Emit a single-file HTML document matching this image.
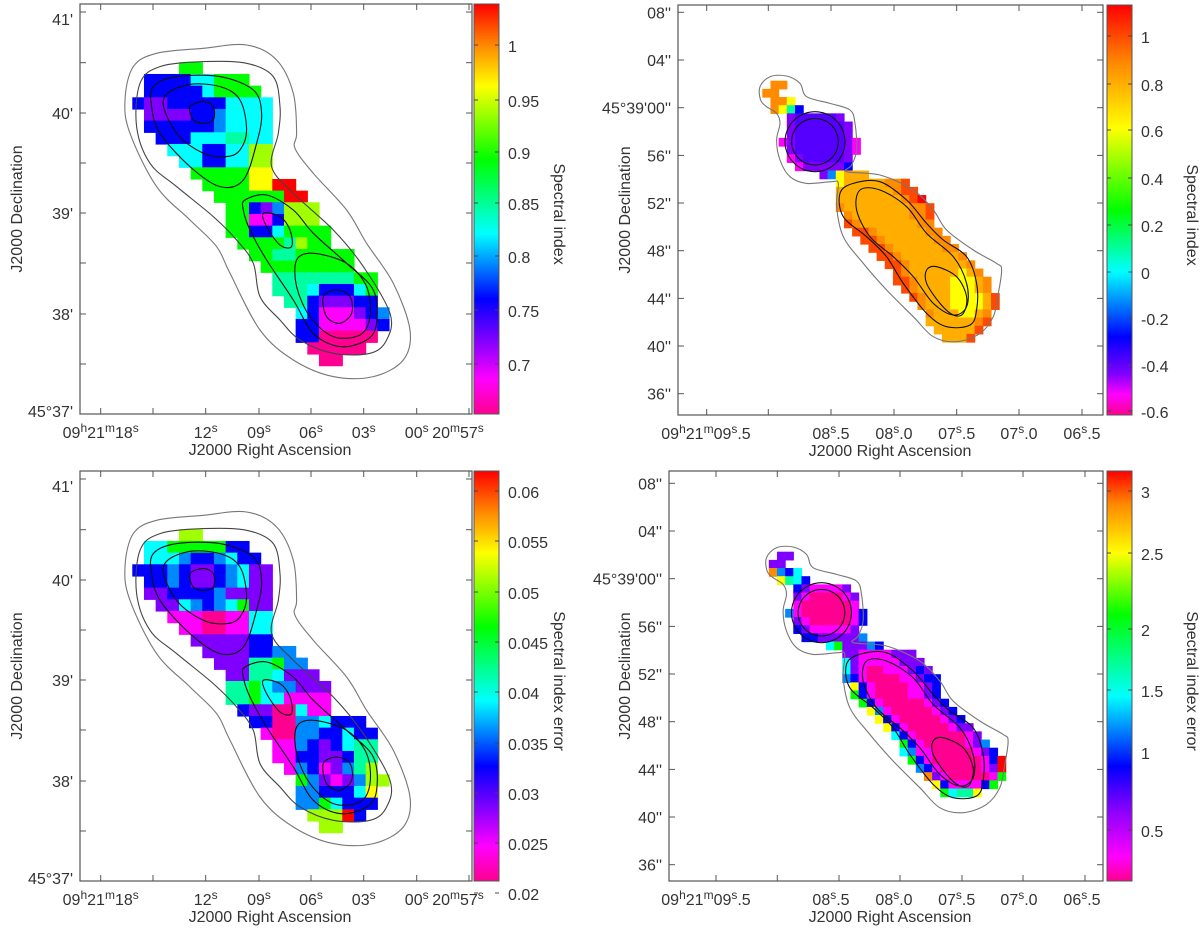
<!DOCTYPE html>
<html><head><meta charset="utf-8"><style>
html,body{margin:0;padding:0;background:#fff;}
svg{display:block;}
text{font-family:"Liberation Sans",sans-serif;fill:#333;font-size:16px;}
</style></head><body>
<svg id="fig" width="1200" height="934" viewBox="0 0 1200 934" xmlns="http://www.w3.org/2000/svg">
<defs>
<linearGradient id="gradL" x1="0" y1="1" x2="0" y2="0">
<stop offset="0" stop-color="#ff0090"/><stop offset="0.085" stop-color="#ff00ff"/>
<stop offset="0.18" stop-color="#8000ff"/><stop offset="0.28" stop-color="#0000ff"/>
<stop offset="0.44" stop-color="#00ffff"/><stop offset="0.62" stop-color="#00ff00"/>
<stop offset="0.8" stop-color="#ffff00"/><stop offset="0.9" stop-color="#ff8800"/>
<stop offset="1" stop-color="#ff0000"/>
</linearGradient>
<linearGradient id="gradTR" x1="0" y1="1" x2="0" y2="0">
<stop offset="0" stop-color="#ff0090"/><stop offset="0.05" stop-color="#ff00ff"/>
<stop offset="0.1" stop-color="#8000ff"/><stop offset="0.19" stop-color="#0000ff"/>
<stop offset="0.35" stop-color="#00ffff"/><stop offset="0.5" stop-color="#00ff00"/>
<stop offset="0.7" stop-color="#ffff00"/><stop offset="0.86" stop-color="#ff8800"/>
<stop offset="1" stop-color="#ff0000"/>
</linearGradient>
<linearGradient id="gradBR" x1="0" y1="1" x2="0" y2="0">
<stop offset="0" stop-color="#ff0090"/><stop offset="0.06" stop-color="#ff00ff"/>
<stop offset="0.18" stop-color="#8000ff"/><stop offset="0.28" stop-color="#0000ff"/>
<stop offset="0.45" stop-color="#00ffff"/><stop offset="0.65" stop-color="#00ff00"/>
<stop offset="0.8" stop-color="#ffff00"/><stop offset="0.92" stop-color="#ff8800"/>
<stop offset="1" stop-color="#ff0000"/>
</linearGradient>
</defs>
</svg>
<script>
// ---------- data ----------
const palette = {p:'#ff0090',m:'#ff00ff',v:'#8000ff',u:'#5500ff',b:'#0000ff',l:'#0088ff',c:'#00ffff',t:'#00ffa0',g:'#00ff00',y:'#a0ff00',Y:'#ffff00',a:'#ffae00',o:'#ff8c00',R:'#ff4800',r:'#ff0000'};
const rowsTL = [[4,"gg"],[1,"bbbbccggg"],[1,"bbbbbcgggg"],[0,"bvvbbbbbcccc"],[1,"vvvvbblcccc"],[1,"bbbbbblcccc"],[2,"bbbcccttcc"],[3,"cccbbccyy"],[4,"ccbbccyy"],[5,"gggggYY"],[6,"ggggYYrr"],[7,"ggggggrr"],[8,"ggbvlyyy"],[8,"ggmmbyyy"],[8,"ggbbcgggg"],[9,"ggggtygg"],[10,"ggttggggg"],[11,"gggggggg"],[12,"tttttttgg"],[12,"tttcbbbcg"],[13,"ttbvvvbb"],[14,"cbmmmvbl"],[14,"bbmmmmvb"],[14,"bbppppp"],[15,"ppppp"],[16,"pp"]];
const rowsBL = [[4,"yy"],[1,"ccgggggbb"],[1,"ccclbblcbb"],[0,"bbblbvvblcvv"],[1,"bblbvvblcvv"],[1,"vvbbbblvvvv"],[2,"vvclblcgvv"],[3,"mmmppmmcc"],[4,"mmppmmcc"],[5,"vvvvvbb"],[6,"vvvvbbll"],[7,"vvvttgll"],[8,"vvttcvvv"],[8,"ttgcllvvv"],[8,"ttgccmmmm"],[9,"bvvppcmm"],[10,"bbppllcbbb"],[11,"mppllbbcbb"],[12,"mmlbvbctt"],[12,"mmbbvvbtt"],[13,"mlbmvlty"],[14,"glvmvlyy"],[14,"llbbbcY"],[14,"llgcbbb"],[15,"yyyrb"],[16,"yy"]];
const rowsTR = [[1,"oo"],[0,"oo"],[1,"ooY"],[1,"oYtb"],[3,"vuuuuuv"],[3,"vuuuuuuv"],[3,"vuuuuuuv"],[2,"mvuuuuuuvm"],[3,"vuuuuuuvm"],[3,"mvuuuuuv"],[4,"mvvvvvb"],[7,"vlYaaa"],[9,"YaaaaaooR"],[9,"aaaaaaaoRR"],[9,"aaaaaaaaoRr"],[9,"oaaaaaaaaooR"],[10,"oaaaaaaaooR"],[10,"Roaaaaaaaoo"],[11,"RRoaaaaaaoo"],[12,"RRoaaaaaaoo"],[13,"RRoaaaaaaoo"],[14,"RRoaaaaaaao"],[15,"RRoaaaaaaao"],[16,"RoaaaaaaYao"],[16,"RRoaaaaYYYao"],[17,"RoaaaaYYYao"],[18,"RoaaaYYYYaR"],[19,"oaaaYYYYaR"],[20,"oaaaYYao"],[20,"aaaaaaoR"],[21,"aaaaaR"],[22,"aaaR"]];
const rowsBR = [[1,"vv"],[0,"vv"],[0,"olbc"],[1,"Ytcb"],[3,"bvmmmmv"],[3,"vmppppmv"],[3,"mppppppm"],[2,"lmppppppmb"],[3,"vmpppppmb"],[3,"bvmmmmmv"],[4,"bbvvvvvl"],[7,"cgvvvlb"],[9,"vvmmmmvvv"],[9,"cvmmmmmvvv"],[9,"cvmppmmmvbv"],[9,"lbmppppmmvbb"],[10,"Ybmppppmmvb"],[10,"gbmppppmmvb"],[11,"gbmpppppmvb"],[12,"Ylmpppppmvb"],[13,"Ybmpppppmvb"],[14,"Ybmpppppmvv"],[15,"cbmppppppmv"],[16,"gbmpppppmvl"],[16,"clmmpppppmvb"],[17,"gbmppppppmbr"],[18,"lbmpppppmvr"],[19,"ovmpppppmg"],[20,"Ybmmmmbg"],[21,"gcttY"]];

const contLeft = [
 {k:'gray',pts:[[160,200],[230,160],[370,145],[500,135],[590,180],[640,280],[650,400],[645,445],[700,520],[800,630],[860,730],[940,850],[990,990],[970,1080],[880,1130],[760,1130],[640,1080],[540,990],[450,820],[410,740],[330,660],[230,560],[150,400],[135,300]]},
 {k:'dark',pts:[[180,250],[240,200],[370,185],[500,190],[580,230],[600,320],[595,400],[575,500],[640,580],[760,690],[850,800],[930,940],[920,1020],[870,1060],[760,1060],[660,1020],[600,960],[540,890],[520,790],[470,720],[400,650],[290,560],[210,490],[170,380]]},
 {k:'black',pts:[[220,260],[290,230],[420,230],[520,270],[545,340],[530,430],[490,540],[420,560],[330,500],[240,400],[215,320]]},
 {k:'black',pts:[[495,600],[560,585],[640,630],[700,700],[800,790],[880,870],[890,970],[860,1020],[780,1040],[700,1000],[640,900],[560,780],[510,690],[490,630]]},
 {k:'black',pts:[[250,300],[320,255],[420,260],[480,300],[500,390],[480,450],[440,470],[370,460],[290,400]]},
 {k:'black',pts:[[550,640],[600,650],[630,690],[635,740],[600,735],[560,680]]},
 {k:'black',pts:[[650,780],[700,760],[800,790],[860,860],[870,950],[840,1005],[760,1010],[690,950],[650,860]]},
 {k:'black',pts:[[330,320],[370,305],[400,320],[400,360],[370,370],[340,360]]},
 {k:'black',pts:[[730,890],[770,870],[810,890],[815,940],[780,970],[740,950]]}
];
const contRight = [
 {k:'gray',pts:[[240,110],[270,80],[320,78],[360,100],[380,140],[450,160],[510,180],[525,220],[530,300],[515,345],[500,365],[600,375],[700,420],[760,480],[800,540],[880,600],[950,640],[965,660],[955,730],[940,800],[900,850],[830,875],[760,860],[700,800],[620,720],[550,640],[490,560],[470,470],[475,400],[455,395],[380,400],[330,380],[300,330],[290,270],[300,220],[290,190],[260,170],[242,150]]},
 {k:'black',pts:[[520,400],[600,395],[680,450],[740,520],[790,570],[860,620],[890,700],[890,780],[870,825],[800,830],[740,790],[670,700],[620,620],[560,560],[490,500],[480,430]]},
 {k:'black',pts:[[540,420],[600,420],[680,470],[740,550],[820,620],[860,700],[860,770],[820,795],[760,760],[700,680],[640,620],[570,560],[530,480]]},
 {k:'black',pts:[[740,660],[770,650],[830,680],[860,740],[850,790],[820,795],[780,760],[740,700]]}
];
const coreCenter = [405,275];
const coreRadii = [90,70];

const yTL = ["41'","40'","39'","38'","45°37'"];
const yTLpos = [0,2,4,6,8];
const xTL = [["09","h","21","m","18","s",""],["12","s",""],["09","s",""],["06","s",""],["03","s",""],["00","s",""],["20","m","57","s",""]];
const xTLidx = [0,2,3,4,5,6,7];
const yTR = ["08''","04''","45°39'00''","56''","52''","48''","44''","40''","36''"];
const xTR = [["09","h","21","m","09","s",".5"],["08","s",".5"],["08","s",".0"],["07","s",".5"],["07","s",".0"],["06","s",".5"]];
const xTRidx = [0,2,3,4,5,6];
const cbTL = ["1","0.95","0.9","0.85","0.8","0.75","0.7"]; const cbTLy=[45,100,152,203,256,310,364];
const cbTR = ["1","0.8","0.6","0.4","0.2","0","-0.2","-0.4","-0.6"]; const cbTRy=[36,84,130,178,225,272,318,365,411];
const cbBL = ["0.06","0.055","0.05","0.045","0.04","0.035","0.03","0.025","0.02"]; const cbBLy=[491,541,592,642,692,743,793,843,893];
const cbBR = ["3","2.5","2","1.5","1","0.5"]; const cbBRy=[491,553,629,690,752,830];

// ---------- drawing ----------
const NS='http://www.w3.org/2000/svg';
const svg=document.getElementById('fig');
function mk(tag,attrs,parent){const e=document.createElementNS(NS,tag);for(const k in attrs)e.setAttribute(k,attrs[k]);(parent||svg).appendChild(e);return e;}

function smoothPath(pts){
  const n=pts.length;let d='M'+pts[0][0].toFixed(1)+','+pts[0][1].toFixed(1);
  for(let i=0;i<n;i++){const p0=pts[(i-1+n)%n],p1=pts[i],p2=pts[(i+1)%n],p3=pts[(i+2)%n];
    const c1=[p1[0]+(p2[0]-p0[0])/6,p1[1]+(p2[1]-p0[1])/6],c2=[p2[0]-(p3[0]-p1[0])/6,p2[1]-(p3[1]-p1[1])/6];
    d+=' C'+c1[0].toFixed(1)+','+c1[1].toFixed(1)+' '+c2[0].toFixed(1)+','+c2[1].toFixed(1)+' '+p2[0].toFixed(1)+','+p2[1].toFixed(1);}
  return d+'Z';
}

function drawPanel(P){
  const g=mk('g',{});
  
  
  const cg=mk('g',{},g);
  
  
  P.rows.forEach((row,r)=>{
    const [start,str]=row;
    for(let i=0;i<str.length;i++){const ch=str[i];if(ch===' ')continue;
      const rc=mk('rect',{x:P.gx(start+i),y:P.gy(r),width:P.cell+0.6,height:P.cell+0.6,fill:palette[ch]},cg);
      
      
    }
  });
  P.conts.forEach(c=>{
    const pts=c.pts.map(p=>[P.cx(p[0]),P.cy(p[1])]);
    const pa=mk('path',{d:smoothPath(pts),fill:'none',stroke:c.k==='gray'?'#777':(c.k==='dark'?'#444':'#111'),'stroke-width':1.1},g);
    
    
  });
  if(P.core){coreRadii.forEach(rad=>{
    const pts=[];for(let k=0;k<24;k++){const a=k/24*Math.PI*2;pts.push([P.cx(coreCenter[0]+rad*Math.cos(a)),P.cy(coreCenter[1]+rad*Math.sin(a))]);}
    const pa=mk('path',{d:smoothPath(pts),fill:'none',stroke:'#111','stroke-width':1.1},g);
    
    
  });}
  const F=P.frame;
  const fr=mk('rect',{x:F.x,y:F.y,width:F.w,height:F.h,fill:'none',stroke:'#555','stroke-width':1.2},g);
  
  
  P.xt.forEach(x=>{mk('line',{x1:x,x2:x,y1:F.y+F.h,y2:F.y+F.h-6,stroke:'#555'},g);mk('line',{x1:x,x2:x,y1:F.y,y2:F.y+6,stroke:'#555'},g);});
  P.yt.forEach(y=>{mk('line',{x1:F.x,x2:F.x+6,y1:y,y2:y,stroke:'#555'},g);mk('line',{x1:F.x+F.w,x2:F.x+F.w-6,y1:y,y2:y,stroke:'#555'},g);});
  P.ylab.forEach((s,i)=>{const y=P.yt[P.yidx[i]]+(P.ynudge?P.ynudge[i]:0);
    const t=mk('text',{x:F.x-7,y:y+6,'text-anchor':'end'},g);t.textContent=s;
    
    });
  P.xlab.forEach((parts,i)=>{const x=P.xlx[i];
    const t=mk('text',{x:x,y:F.y+F.h+24,'text-anchor':'middle'},g);
    
    
    for(let k=0;k<parts.length;k++){if(!parts[k])continue;const ts=mk('tspan',{},t);ts.textContent=parts[k];
      if(k%2===1&&/^[hms]$/.test(parts[k])){ts.setAttribute('dy','-6');ts.setAttribute('font-size','12');}
      else if(k>0&&/^[hms]$/.test(parts[k-1])){ts.setAttribute('dy','6');}}
  });
  const xt=mk('text',{x:P.xtitle,y:F.y+F.h+41,'text-anchor':'middle'},g);xt.textContent='J2000 Right Ascension';
  
  
  const yy=F.y+F.h/2;
  const yt=mk('text',{x:0,y:0,'text-anchor':'middle',transform:'translate('+P.ytx+','+yy+') rotate(-90)'},g);yt.textContent='J2000 Declination';
  
  
  const cb=mk('rect',{x:P.cbx,y:F.y,width:25,height:F.h,fill:'url(#'+P.grad+')',stroke:'#555','stroke-width':1},g);
  
  
  P.cbl.forEach((s,i)=>{const y=P.cby[i];
    mk('line',{x1:P.cbx,x2:P.cbx+4,y1:y,y2:y,stroke:'#444'},g);mk('line',{x1:P.cbx+25,x2:P.cbx+21,y1:y,y2:y,stroke:'#444'},g);
    const t=mk('text',{x:P.cbx+34,y:y+7,'font-size':'18'},g);t.textContent=s;
    
    });
  const ct=mk('text',{x:0,y:0,'text-anchor':'middle','font-size':'17',transform:'translate('+(P.cbx+80)+','+(F.y+210)+') rotate(90)'},g);ct.textContent=P.cbtitle;
  
  
}

function leftPanel(name,dy,rows,cbl,cby,cbtitle){
  const cell=35/3, ox=132.3, oy=62.3+dy;
  return {name,rows,cell,gx:i=>ox+i*cell,gy:r=>oy+r*cell,
    cx:z=>ox+(z-157)/35*cell,cy:z=>oy+(z-187)/35*cell,conts:contLeft,core:false,
    frame:{x:80,y:4+dy,w:392,h:410},
    xt:[100.7,153,205.7,259,311,363.7,416.7,469],
    yt:[12,62.7,113,163,213,263,314,364,414].map(v=>v+dy),
    ylab:yTL,yidx:yTLpos,ynudge:[7,0,0,0,-3],
    xlab:xTL,xlx:xTLidx.map(i=>[100.7,153,205.7,259,311,363.7,416.7,458][i]),
    xtitle:270,ytx:22,cbx:474,grad:'gradL',cbl,cby,cbtitle};
}
function rightPanel(name,dx,dy,rows,cbl,cby,cbtitle,frame,xt,grad){
  const cell=24.5/3, ox=762.3+dx, oy=80.7+dy;
  return {name,rows,cell,gx:i=>ox+i*cell,gy:r=>oy+r*cell,
    cx:z=>ox+(z-247)/24.5*cell,cy:z=>oy+(z-92)/24.5*cell,conts:contRight,core:true,
    frame,xt,
    yt:[12.3,60,107.7,155.4,203,250.7,298.4,346,393.7].map(v=>v+dy),
    ylab:yTR,yidx:[0,1,2,3,4,5,6,7,8],
    xlab:xTR,xlx:xTRidx.map(i=>[706,768.3,831,894,956.7,1019,1082][i]),
    xtitle:890,ytx:630,cbx:1107,grad,cbl,cby,cbtitle};
}
drawPanel(leftPanel('spectral-index-map-low',0,rowsTL,cbTL,cbTLy,'Spectral index'));
drawPanel(leftPanel('spectral-index-error-map-low',467,rowsBL,cbBL,cbBLy,'Spectral index error'));
drawPanel(rightPanel('spectral-index-map-high',0,0,rowsTR,cbTR,cbTRy,'Spectral index',{x:678,y:5,w:425,h:410},[706.7,768.3,831,894,956.7,1019,1082],'gradTR'));
drawPanel(rightPanel('spectral-index-error-map-high',6.5,471,rowsBR,cbBR,cbBRy,'Spectral index error',{x:669,y:471,w:434,h:410},[716,777.3,839,900,962,1023,1085],'gradBR'));
</script>
</body></html>
